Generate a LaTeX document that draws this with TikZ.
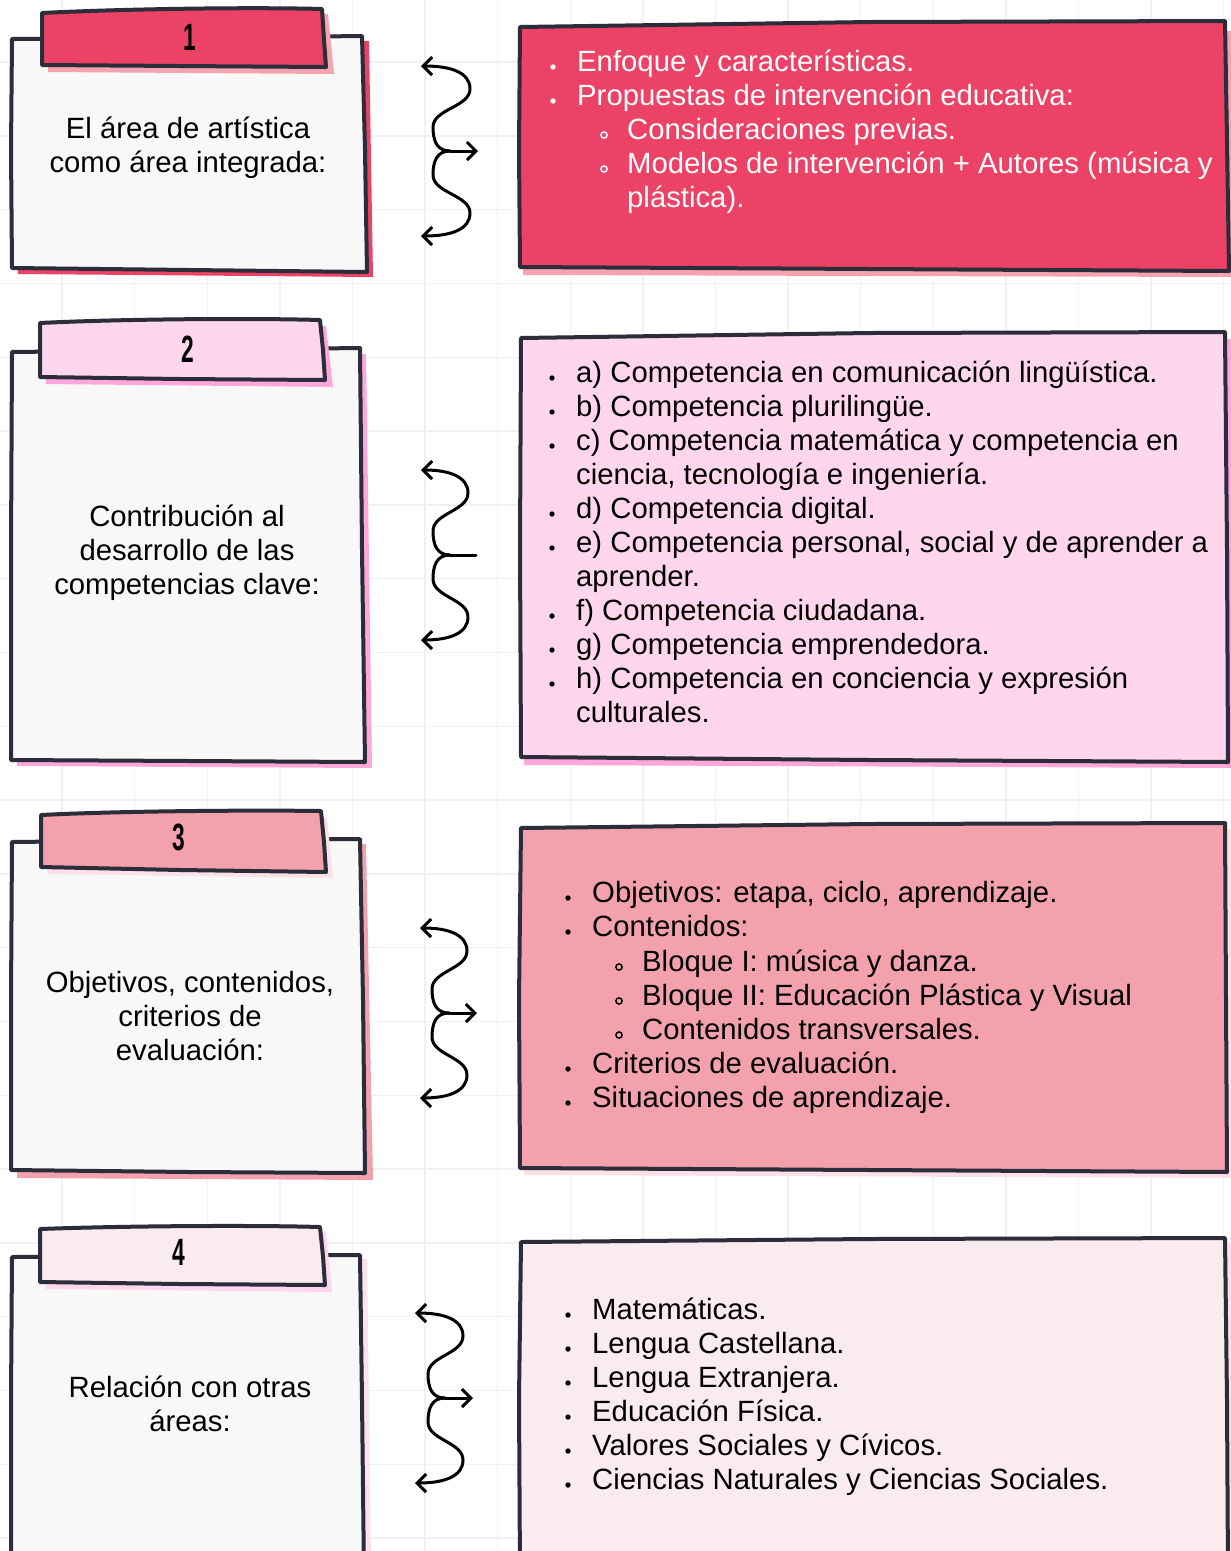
\documentclass[tikz,border=0pt]{standalone}
\usepackage{fontspec}
\usepackage{graphicx}
\setmainfont{Liberation Sans}
\usetikzlibrary{arrows.meta}
\definecolor{ink}{HTML}{2B2D3A}
\definecolor{cardbg}{HTML}{F8F8F8}
\definecolor{redA}{HTML}{EC4265}
\definecolor{redAs}{HTML}{F6A3B0}
\definecolor{pinkB}{HTML}{FFD6EE}
\definecolor{pinkBs}{HTML}{FFA7DA}
\definecolor{salC}{HTML}{F4A1AE}
\definecolor{salCs}{HTML}{FBE0E6}
\definecolor{ltD}{HTML}{FAEBEF}
\definecolor{ltDs}{HTML}{FCE3EB}
\definecolor{gridc}{HTML}{F1F1F1}
\tikzset{
  card/.style={fill=cardbg, draw=ink, line width=4pt, line join=round},
  tabbox/.style={draw=ink, line width=4pt, line join=round},
  lst/.style={font=\fontsize{29.3}{34}\selectfont, inner sep=0pt, anchor=base west},
  ctr/.style={font=\fontsize{29.3}{34}\selectfont, inner sep=0pt, anchor=base, text=black},
  num/.style={font=\fontsize{38}{38}\selectfont\bfseries, inner sep=0pt, anchor=base, text=black},
  wave/.style={draw=black, line width=3pt, line cap=round},
  barb/.style={-{Straight Barb[length=9pt,width=18pt]}},
}
\newcommand\bitem[4]{%
  \fill (#2,#3+5) circle (2.7pt);
  \node[lst] (#1) at (#2+24,#3+9.5) {#4};}
\newcommand\sitem[4]{%
  \draw[line width=1.5pt] (#2,#3+5) circle (3.1pt);
  \node[lst] (#1) at (#2+23,#3+9.5) {#4};}
\newcommand\citem[4]{%
  \node[lst] (#1) at (#2,#3+9.5) {#4};}
% #1 prefix, #2 xl, #3 yc, #4 xr, #5 xw, #6 xm, #7 middle style
\newcommand\wavy[7]{%
  \coordinate (#1t) at (#2,#3-85);
  \coordinate (#1b) at (#2,#3+85);
  \coordinate (#1j) at (#5+17,#3);
  \coordinate (#1m) at (#6,#3);
  \draw[wave,barb] (#1j) .. controls (#5+4,#3) and (#5,#3-10) .. (#5,#3-24)
     .. controls (#5,#3-42) and (#4,#3-44) .. (#4,#3-62)
     .. controls (#4,#3-78) and (#4-18,#3-85) .. (#1t);
  \draw[wave,barb] (#1j) .. controls (#5+4,#3) and (#5,#3+10) .. (#5,#3+24)
     .. controls (#5,#3+42) and (#4,#3+44) .. (#4,#3+62)
     .. controls (#4,#3+78) and (#4-18,#3+85) .. (#1b);
  \draw[wave,#7] (#1j) -- (#1m);}
\begin{document}
\begin{tikzpicture}[x=1pt,y=-1pt]
\clip (0,0) rectangle (1231,1551);
\fill[white] (0,0) rectangle (1231,1551);
\foreach \i in {0,...,16} \draw[gridc, line width=1.4pt] (62+72.6*\i,0) -- (62+72.6*\i,1551);
\foreach \j in {0,...,20} \draw[gridc, line width=1.4pt] (0,62+73.8*\j) -- (1231,62+73.8*\j);

% ---------- Row 1 ----------
\fill[redA] (19,44) -- (369,41) -- (373,277) -- (18,274) -- cycle;
\filldraw[card] (12,39) -- (190,38) -- (362,36) -- (365,150) -- (367,272) -- (190,270) -- (12,268) -- (11,150) -- cycle;
\fill[redAs] (48,19) -- (328,14) -- (334,74) -- (48,72) -- cycle;
\filldraw[tabbox, fill=redA] (42,13) .. controls (120,9) and (250,7) .. (322,9) -- (324,40) -- (326,67) -- (180,66) -- (42,65) -- cycle;
\node[num] (n1) at (190,50) {\scalebox{0.6}[1]{1}};
\node[ctr] (c1a) at (188,129+9.5) {El área de artística};
\node[ctr] (c1b) at (188,163+9.5) {como área integrada:};
\fill[redAs] (523,36) -- (1231,31) -- (1231,277) -- (523,275) -- cycle;
\filldraw[card, fill=redA] (520,27) -- (870,22) -- (1225,21) -- (1227,140) -- (1229,271) -- (870,269) -- (520,267) -- (519,150) -- cycle;
\begin{scope}[color=white]
\bitem{r1a}{553}{62}{Enfoque y características.}
\bitem{r1b}{553}{96}{Propuestas de intervención educativa:}
\sitem{r1c}{604}{130}{Consideraciones previas.}
\sitem{r1d}{604}{164}{Modelos de intervención + Autores (música y}
\citem{r1e}{627}{198}{plástica).}
\end{scope}
\wavy{w1}{421}{151}{470}{433}{478}{barb}

% ---------- Row 2 ----------
\fill[pinkBs] (18,357) -- (366,354) -- (372,768) -- (17,766) -- cycle;
\filldraw[card] (12,352) -- (190,350) -- (360,348) -- (362,550) -- (365,762) -- (190,761) -- (11,760) -- (11,550) -- cycle;
\fill[pinkBs] (46,329) -- (326,326) -- (333,387) -- (46,384) -- cycle;
\filldraw[tabbox, fill=pinkB] (40,323) .. controls (120,319) and (250,318) .. (320,320) -- (323,350) -- (325,380) -- (180,379) -- (40,377) -- cycle;
\node[num] (n2) at (188,362) {\scalebox{0.6}[1]{2}};
\node[ctr] (c2a) at (187,517+9.5) {Contribución al};
\node[ctr] (c2b) at (187,551+9.5) {desarrollo de las};
\node[ctr] (c2c) at (187,585+9.5) {competencias clave:};
\fill[pinkBs] (524,345) -- (1231,339) -- (1231,768) -- (524,765) -- cycle;
\filldraw[card, fill=pinkB] (521,338) -- (870,333) -- (1225,332) -- (1227,550) -- (1228,762) -- (870,760) -- (521,757) -- (520,550) -- cycle;
\begin{scope}[color=black]
\bitem{r2a}{552}{373}{a) Competencia en comunicación lingüística.}
\bitem{r2b}{552}{407}{b) Competencia plurilingüe.}
\bitem{r2c}{552}{441}{c) Competencia matemática y competencia en}
\citem{r2d}{576}{475}{ciencia, tecnología e ingeniería.}
\bitem{r2e}{552}{509}{d) Competencia digital.}
\bitem{r2f}{552}{543}{e) Competencia personal, social y de aprender a}
\citem{r2g}{576}{577}{aprender.}
\bitem{r2h}{552}{611}{f) Competencia ciudadana.}
\bitem{r2i}{552}{645}{g) Competencia emprendedora.}
\bitem{r2j}{552}{679}{h) Competencia en conciencia y expresión}
\citem{r2k}{576}{713}{culturales.}
\end{scope}
\wavy{w2}{421}{555}{468}{433}{476}{}

% ---------- Row 3 ----------
\fill[salC] (18,847) -- (366,844) -- (373,1180) -- (17,1178) -- cycle;
\filldraw[card] (12,842) -- (190,840) -- (360,839) -- (363,1000) -- (365,1173) -- (190,1172) -- (11,1170) -- (11,1000) -- cycle;
\fill[salCs] (47,821) -- (327,817) -- (333,878) -- (47,874) -- cycle;
\filldraw[tabbox, fill=salC] (41,815) .. controls (120,811) and (250,810) .. (321,811) -- (324,842) -- (326,872) -- (180,870) -- (41,867) -- cycle;
\node[num] (n3) at (179,850) {\scalebox{0.6}[1]{3}};
\node[ctr] (c3a) at (190,983+9.5) {Objetivos, contenidos,};
\node[ctr] (c3b) at (190,1017+9.5) {criterios de};
\node[ctr] (c3c) at (190,1051+9.5) {evaluación:};
\fill[salCs] (524,835) -- (1231,829) -- (1231,1178) -- (524,1175) -- cycle;
\filldraw[card, fill=salC] (521,828) -- (870,824) -- (1225,823) -- (1226,1000) -- (1227,1172) -- (870,1170) -- (520,1168) -- (519,1000) -- cycle;
\begin{scope}[color=black]
\bitem{r3a}{568}{893}{Objetivos: etapa, ciclo, aprendizaje.}
\bitem{r3b}{568}{927}{Contenidos:}
\sitem{r3c}{619}{962}{Bloque I: música y danza.}
\sitem{r3d}{619}{996}{Bloque II: Educación Plástica y Visual}
\sitem{r3e}{619}{1030}{Contenidos transversales.}
\bitem{r3f}{568}{1064}{Criterios de evaluación.}
\bitem{r3g}{568}{1098}{Situaciones de aprendizaje.}
\end{scope}
\wavy{w3}{420}{1013}{467}{432}{477}{barb}

% ---------- Row 4 ----------
\fill[ltDs] (18,1262) -- (367,1259) -- (371,1560) -- (18,1560) -- cycle;
\filldraw[card] (12,1257) -- (190,1256) -- (360,1255) -- (362,1400) -- (364,1575) -- (11,1575) -- (11,1400) -- cycle;
\fill[pinkB] (46,1235) -- (326,1232) -- (332,1292) -- (46,1289) -- cycle;
\filldraw[tabbox, fill=ltD] (40,1229) .. controls (120,1226) and (250,1225) .. (320,1227) -- (323,1256) -- (325,1285) -- (180,1284) -- (40,1282) -- cycle;
\node[num] (n4) at (179,1265) {\scalebox{0.6}[1]{4}};
\node[ctr] (c4a) at (190,1388+9.5) {Relación con otras};
\node[ctr] (c4b) at (190,1422+9.5) {áreas:};
\fill[ltDs] (524,1249) -- (1231,1243) -- (1231,1575) -- (524,1575) -- cycle;
\filldraw[card, fill=ltD] (521,1242) -- (870,1239) -- (1225,1238) -- (1227,1400) -- (1228,1575) -- (520,1575) -- (519,1400) -- cycle;
\begin{scope}[color=black]
\bitem{r4a}{568}{1310}{Matemáticas.}
\bitem{r4b}{568}{1344}{Lengua Castellana.}
\bitem{r4c}{568}{1378}{Lengua Extranjera.}
\bitem{r4d}{568}{1412}{Educación Física.}
\bitem{r4e}{568}{1446}{Valores Sociales y Cívicos.}
\bitem{r4f}{568}{1480}{Ciencias Naturales y Ciencias Sociales.}
\end{scope}
\wavy{w4}{415}{1398}{463}{428}{473}{barb}
\end{tikzpicture}
\end{document}
